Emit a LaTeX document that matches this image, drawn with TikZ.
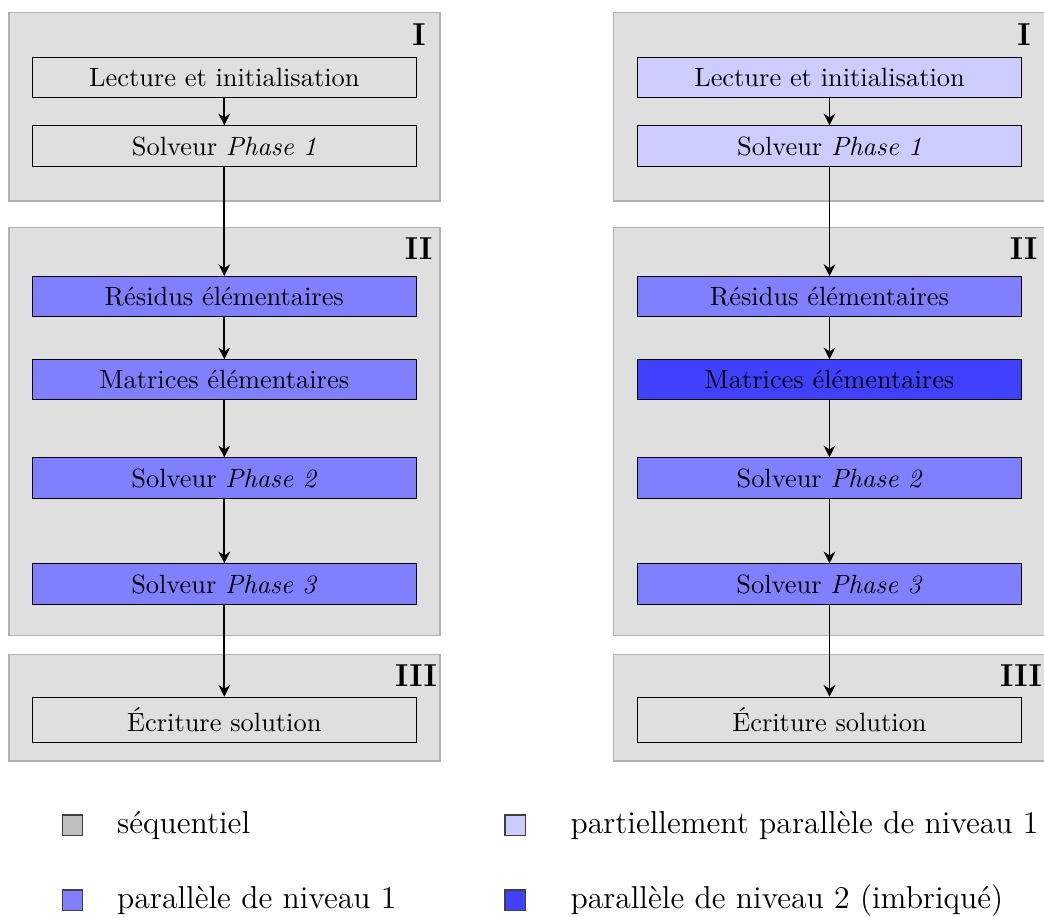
\documentclass[tikz,border=0pt]{standalone}
\usepackage{fontspec}
\usetikzlibrary{arrows.meta}
\begin{document}
\begin{tikzpicture}[x=0.3788pt,y=-0.3788pt,
  panel/.style={fill=gray!25,draw=gray!60,line width=0.6pt},
  stepbox/.style={draw=black,line width=0.45pt,minimum width=145.5pt,inner xsep=3pt,inner ysep=4pt,anchor=north},
  lab/.style={font=\large\bfseries,inner sep=0pt},
  arr/.style={line width=0.75pt,-{Stealth[length=4.4pt,width=4.4pt,inset=1.4pt]}},
  legsq/.style={draw=black!75,line width=0.4pt,minimum size=7.6pt,inner sep=0pt},
  legtxt/.style={font=\large,inner sep=0pt,anchor=base west}]
\useasboundingbox (0,0) rectangle (1044,917);
% ---------- left column ----------
\draw[panel] (9,12.3) rectangle (440,201);
\draw[panel] (9,227.3) rectangle (440,635.7);
\draw[panel] (9,654.3) rectangle (440,761);
\node[lab] (lI) at (419,35) {I};
\node[lab] (lII) at (418.7,249) {II};
\node[lab] (lIII) at (416,676) {III};
\node[stepbox] (a1) at (224.3,57) {Lecture et initialisation};
\node[stepbox] (a2) at (224.3,125.3) {Solveur \textit{Phase 1}};
\node[stepbox,fill=blue!50] (a3) at (224.3,276) {Résidus élémentaires};
\node[stepbox,fill=blue!50] (a4) at (224.3,359.3) {Matrices élémentaires};
\node[stepbox,fill=blue!50] (a5) at (224.3,457.3) {Solveur \textit{Phase 2}};
\node[stepbox,fill=blue!50] (a6) at (224.3,563.3) {Solveur \textit{Phase 3}};
\node[stepbox] (a7) at (224.3,696.7) {Écriture solution};
\draw[arr] (a1) -- (a2);
\draw[arr] (a2) -- (a3);
\draw[arr] (a3) -- (a4);
\draw[arr] (a4) -- (a5);
\draw[arr] (a5) -- (a6);
\draw[arr] (a6) -- (a7);
% ---------- right column ----------
\draw[panel] (613.3,12.3) rectangle (1045.4,201);
\draw[panel] (613.3,227.3) rectangle (1045.4,635.7);
\draw[panel] (613.3,654.3) rectangle (1045.4,761);
\node[lab] (rI) at (1024,35) {I};
\node[lab] (rII) at (1023.7,249) {II};
\node[lab] (rIII) at (1021,676) {III};
\node[stepbox,fill=blue!20] (b1) at (829.5,57) {Lecture et initialisation};
\node[stepbox,fill=blue!20] (b2) at (829.5,125.3) {Solveur \textit{Phase 1}};
\node[stepbox,fill=blue!50] (b3) at (829.5,276) {Résidus élémentaires};
\node[stepbox,fill=blue!75] (b4) at (829.5,359.3) {Matrices élémentaires};
\node[stepbox,fill=blue!50] (b5) at (829.5,457.3) {Solveur \textit{Phase 2}};
\node[stepbox,fill=blue!50] (b6) at (829.5,563.3) {Solveur \textit{Phase 3}};
\node[stepbox] (b7) at (829.5,696.7) {Écriture solution};
\draw[arr] (b1) -- (b2);
\draw[arr] (b2) -- (b3);
\draw[arr] (b3) -- (b4);
\draw[arr] (b4) -- (b5);
\draw[arr] (b5) -- (b6);
\draw[arr] (b6) -- (b7);
% ---------- legend ----------
\node[legsq,fill=gray!50] (s1) at (72.8,825) {};
\node[legtxt] (t1) at (116.7,833.5) {séquentiel};
\node[legsq,fill=blue!50] (s2) at (72.8,900) {};
\node[legtxt] (t2) at (116.7,908.5) {parallèle de niveau 1};
\node[legsq,fill=blue!20] (s3) at (515,825) {};
\node[legtxt] (t3) at (570,833.5) {partiellement parallèle de niveau 1};
\node[legsq,fill=blue!75] (s4) at (515,900) {};
\node[legtxt] (t4) at (570,908.5) {parallèle de niveau 2 (imbriqué)};
\end{tikzpicture}
\end{document}
